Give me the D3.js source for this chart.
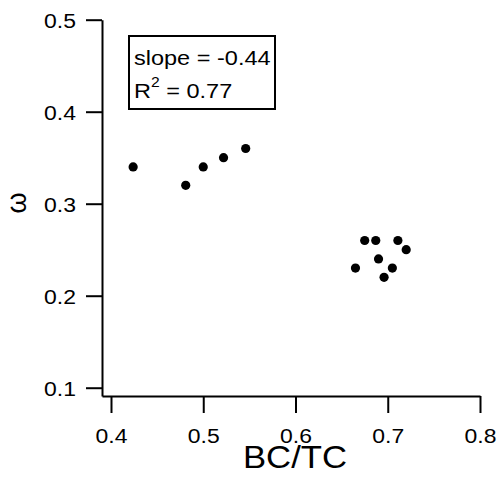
<!DOCTYPE html>
<html>
<head>
<meta charset="utf-8">
<script src="https://cdn.jsdelivr.net/npm/d3@7"></script>
<style>
	body { margin: 0; background: #fff; }
	svg { display: block; font-family: "Liberation Sans", Arial, sans-serif; }
</style>
</head>
<body>
<svg id="chart" width="500" height="480"></svg>
<script>
// BC/TC ratio vs omega, one point each
var bcTc  = [0.424, 0.481, 0.500, 0.522, 0.546, 0.675, 0.687, 0.711, 0.720, 0.690, 0.665, 0.705, 0.696];
var omega = [0.340, 0.320, 0.340, 0.350, 0.360, 0.260, 0.260, 0.260, 0.250, 0.240, 0.230, 0.230, 0.220];

var xTicks = [0.4, 0.5, 0.6, 0.7, 0.8];
var yTicks = [0.1, 0.2, 0.3, 0.4, 0.5];

var fitLines = ["slope = -0.44", "R", "2", " = 0.77"];

;(function() {
	"use strict";

	var svg = d3.select("#chart"),
		stretch = 1.12; // text in the original is drawn a bit wide

	var x = d3.scaleLinear().domain([0.39025, 0.8]).range([102, 480]),
		y = d3.scaleLinear().domain([0.091, 0.5]).range([396, 19.7]);

	var points = d3.zip(bcTc, omega);

	// y axis
	var gy = svg.append("g")
		.attr("transform", "translate(102,0)")
		.call(d3.axisLeft(y).tickValues(yTicks).tickFormat(d3.format(".1f")).tickSize(16).tickSizeOuter(0));

	// x axis
	var gx = svg.append("g")
		.attr("transform", "translate(0,396)")
		.call(d3.axisBottom(x).tickValues(xTicks).tickFormat(d3.format(".1f")).tickSize(17).tickSizeOuter(0));

	[gx, gy].forEach(function(g) {
		g.attr("font-family", null).attr("font-size", null);
		g.select(".domain").attr("stroke", "#000").attr("stroke-width", 2);
		g.selectAll(".tick line").attr("stroke", "#000").attr("stroke-width", 2);
		g.selectAll(".tick text").attr("fill", "#000").style("font-size", "20.5px");
	});

	gy.selectAll(".tick text")
		.attr("x", -26 / stretch)
		.attr("dy", "0.36em")
		.attr("transform", "scale(" + stretch + ",1)");

	gx.selectAll(".tick text")
		.attr("y", 47)
		.attr("dy", 0)
		.attr("transform", "scale(" + stretch + ",1)");

	// axis titles
	svg.append("text")
		.attr("transform", "translate(295,468) scale(" + stretch + ",1)")
		.attr("text-anchor", "middle")
		.style("font-size", "31px")
		.text("BC/TC");

	svg.append("text")
		.attr("transform", "translate(26,203) rotate(-90)")
		.attr("text-anchor", "middle")
		.style("font-size", "27px")
		.text("ω");

	// points
	svg.append("g").selectAll("circle")
		.data(points)
		.enter().append("circle")
			.attr("cx", function(d) { return x(d[0]); })
			.attr("cy", function(d) { return y(d[1]); })
			.attr("r", 4.6)
			.attr("fill", "#000");

	// fit annotation box
	var box = svg.append("g").attr("transform", "translate(129,36)");
	box.append("rect")
		.attr("width", 146)
		.attr("height", 73)
		.attr("fill", "#fff")
		.attr("stroke", "#000")
		.attr("stroke-width", 2);

	box.append("text")
		.attr("transform", "translate(5,29) scale(" + stretch + ",1)")
		.style("font-size", "21px")
		.text(fitLines[0]);

	var r2 = box.append("text")
		.attr("transform", "translate(5,62) scale(" + stretch + ",1)")
		.style("font-size", "21px");
	r2.append("tspan").text(fitLines[1]);
	r2.append("tspan").attr("dy", -11).style("font-size", "14px").text(fitLines[2]);
	r2.append("tspan").attr("dy", 11).text(fitLines[3]);
})();
</script>
</body>
</html>
